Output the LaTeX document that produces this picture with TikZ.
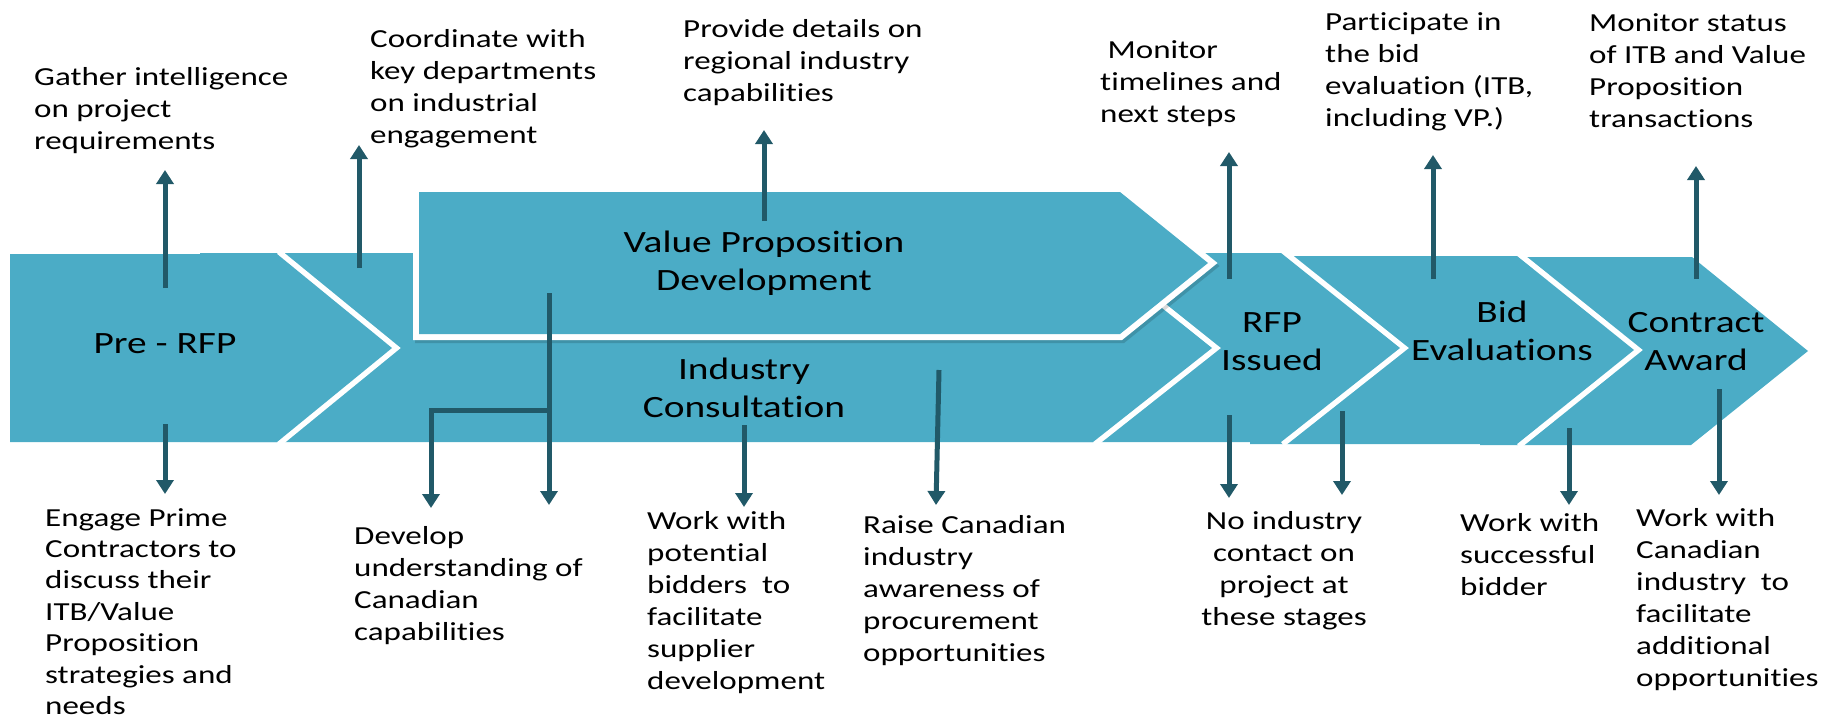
\documentclass[tikz,border=0pt]{standalone}
\usepackage{fontspec}
\usetikzlibrary{arrows.meta}
\newfontfamily\carl[FakeStretch=1.27,Ligatures=NoCommon]{Carlito}
\definecolor{stageblue}{HTML}{4BACC6}
\definecolor{arrowc}{HTML}{215968}
\tikzset{
  ann/.style={font=\carl\fontsize{26}{32}\selectfont, align=left, anchor=north west, inner sep=0pt, text=black},
  anncenter/.style={ann, align=center, anchor=north},
  stagelbl/.style={font=\carl\fontsize{31}{38}\selectfont, align=center, anchor=north, inner sep=0pt, text=black},
  stagefill/.style={fill=stageblue},
  whiteedge/.style={draw=white, line width=11pt, line join=miter, line cap=butt},
  arr/.style={draw=arrowc, line width=5pt, line join=miter, -{Triangle[width=17pt,length=14pt]}},
}
\begin{document}
\begin{tikzpicture}[x=1pt,y=-1pt]
\useasboundingbox (0,0) rectangle (1824,721);
% ---------- stage shapes (back to front) ----------
% Contract Award
\fill[stagefill] (1480,257) -- (1692,257) -- (1808,351) -- (1691,445) -- (1480,445) -- cycle;
% Bid Evaluations
\draw[whiteedge] (1517,256) -- (1634,350) -- (1517,444);
\fill[stagefill] (1250,256) -- (1517,256) -- (1634,350) -- (1517,444) -- (1250,444) -- cycle;
% RFP Issued
\draw[whiteedge] (1281,253) -- (1400,348) -- (1281,442);
\fill[stagefill] (1050,253) -- (1281,253) -- (1400,348) -- (1281,442) -- (1050,442) -- cycle;
% Industry Consultation
\draw[whiteedge] (1093,253) -- (1212,348) -- (1093,442);
\fill[stagefill] (200,253) -- (1093,253) -- (1212,348) -- (1093,442) -- (200,442) -- cycle;
% Pre-RFP
\draw[whiteedge] (277,254) -- (392,348) -- (277,442);
\fill[stagefill] (10,254) -- (277,254) -- (392,348) -- (277,442) -- (10,442) -- cycle;
% Value Proposition Development (white frame with soft shadow)
\path[fill=black, fill opacity=0.15, draw=black, draw opacity=0.15, line width=12pt, line join=miter]
  (421,195) -- (1122,195) -- (1210,266) -- (1122,337) -- (421,337) -- cycle;
\path[draw=white, line width=12pt, line join=miter]
  (419,192) -- (1120,192) -- (1208,263) -- (1120,334) -- (419,334) -- cycle;
\fill[stagefill] (419,192) -- (1120,192) -- (1208,263) -- (1120,334) -- (419,334) -- cycle;

% ---------- stage labels ----------
\node[font=\carl\fontsize{31}{38}\selectfont, anchor=base, inner sep=0pt] (prerfp) at (165,353) {Pre - RFP};
\node[stagelbl] (vpd) at (764,225.4) {\strut Value Proposition\\Development};
\node[stagelbl] (ic) at (744,352.4) {\strut Industry\\Consultation};
\node[stagelbl] (rfp) at (1272,305.4) {\strut RFP\\Issued};
\node[stagelbl] (bid) at (1502,295.4) {\strut Bid\\Evaluations};
\node[stagelbl] (ca) at (1696,305.4) {\strut Contract\\Award};

% ---------- annotation texts ----------
\node[ann] (t1) at (34,62.6) {\strut Gather intelligence\\on project\\requirements};
\node[ann] (t2) at (370,24.6) {\strut Coordinate with\\key departments\\on industrial\\engagement};
\node[ann] (t3) at (683,14.6) {\strut Provide details on\\regional industry\\capabilities};
\node[ann] (t4) at (1100,35.6) {\strut\ Monitor\\timelines and\\next steps};
\node[ann] (t5) at (1325,7.6) {\strut Participate in\\the bid\\evaluation (ITB,\\including VP.)};
\node[ann] (t6) at (1589,8.6) {\strut Monitor status\\of ITB and Value\\Proposition\\transactions};

\node[ann, font=\carl\fontsize{26}{31.4}\selectfont] (b1) at (45,504) {\strut Engage Prime\\Contractors to\\discuss their\\ITB/Value\\Proposition\\strategies and\\needs};
\node[ann] (b2) at (354,521.6) {\strut Develop\\understanding of\\Canadian\\capabilities};
\node[ann] (b3) at (647,506.6) {\strut Work with\\potential\\bidders\ \ to\\facilitate\\supplier\\development};
\node[ann] (b4) at (863,510.6) {\strut Raise Canadian\\industry\\awareness of\\procurement\\opportunities};
\node[anncenter] (b5) at (1284,506.6) {\strut No industry\\contact on\\project at\\these stages};
\node[ann] (b6) at (1460,508.6) {\strut Work with\\successful\\bidder};
\node[ann] (b7) at (1636,503.6) {\strut Work with\\Canadian\\industry\ \ to\\facilitate\\additional\\opportunities};

% ---------- arrow end points ----------
\coordinate (u1s) at (165,288);  \coordinate (u1e) at (165,170);
\coordinate (u2s) at (359,268);  \coordinate (u2e) at (359,145);
\coordinate (u3s) at (764,221);  \coordinate (u3e) at (764,130);
\coordinate (u4s) at (1229,279); \coordinate (u4e) at (1229,152);
\coordinate (u5s) at (1433,279); \coordinate (u5e) at (1433,155);
\coordinate (u6s) at (1696,279); \coordinate (u6e) at (1696,166);

\coordinate (d1s) at (165,424);  \coordinate (d1e) at (165,494);
\coordinate (d2s) at (549,293);  \coordinate (d2e) at (549,505);
\coordinate (d2m) at (549,410);  \coordinate (d2l) at (431,508);
\coordinate (d3s) at (744,425);  \coordinate (d3e) at (744,507);
\coordinate (d4s) at (939,370);  \coordinate (d4e) at (936,505);
\coordinate (d5s) at (1229,415); \coordinate (d5e) at (1229,498);
\coordinate (d6s) at (1342,411); \coordinate (d6e) at (1342,495);
\coordinate (d7s) at (1569,428); \coordinate (d7e) at (1569,505);
\coordinate (d8s) at (1719,389); \coordinate (d8e) at (1719,495);

% ---------- arrows ----------
\draw[arr] (u1s) -- (u1e);
\draw[arr] (u2s) -- (u2e);
\draw[arr] (u3s) -- (u3e);
\draw[arr] (u4s) -- (u4e);
\draw[arr] (u5s) -- (u5e);
\draw[arr] (u6s) -- (u6e);

\draw[arr] (d1s) -- (d1e);
\draw[arr] (d2s) -- (d2e);
\draw[arr] (d2m) -| (d2l);
\draw[arr] (d3s) -- (d3e);
\draw[arr] (d4s) -- (d4e);
\draw[arr] (d5s) -- (d5e);
\draw[arr] (d6s) -- (d6e);
\draw[arr] (d7s) -- (d7e);
\draw[arr] (d8s) -- (d8e);
\end{tikzpicture}
\end{document}
